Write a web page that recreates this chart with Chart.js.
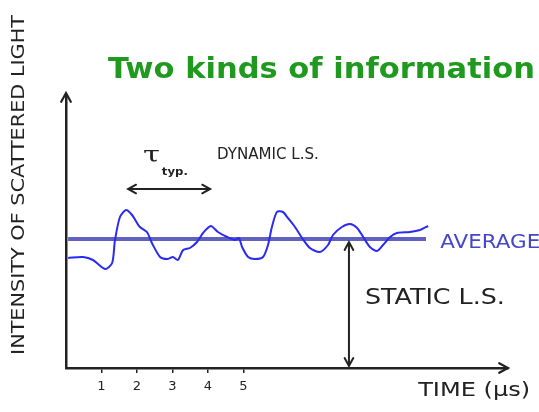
<!DOCTYPE html>
<html>
<head>
<meta charset="utf-8">
<script src="https://cdn.jsdelivr.net/npm/chart.js@4/dist/chart.umd.min.js"></script>
<style>
    html, body { margin: 0; padding: 0; background: #fff; }
    #wrap { width: 539px; height: 412px; }
</style>
</head>
<body>
<div id="wrap"><canvas id="grafico"></canvas></div>
<script>
// Datos: tiempo (µs) e intensidad (unidades arbitrarias)
const tiempo = [0.06, 0.48, 0.76, 1.10, 1.30, 1.38, 1.52, 1.69, 1.86, 2.08, 2.28, 2.42, 2.65, 2.87, 3.01,
    3.15, 3.30, 3.49, 3.69, 3.86, 4.08, 4.28, 4.54, 4.76, 4.87, 4.96, 5.13, 5.32, 5.55, 5.69, 5.80,
    5.94, 6.11, 6.25, 6.45, 6.65, 6.87, 7.15, 7.38, 7.52, 7.77, 8.00, 8.20, 8.37, 8.56, 8.76, 8.93,
    9.13, 9.32, 9.69, 9.97, 10.20];
const intensidad = [110, 111, 108, 99, 105, 128, 151, 158, 153, 141, 136, 125, 111, 109, 111,
    108, 118, 120, 126, 135, 142, 136, 131, 128, 130, 121, 111, 109, 111, 123, 141,
    156, 156, 150, 141, 130, 120, 116, 123, 133, 141, 144, 140, 131, 121, 117, 123,
    131, 135, 136, 138, 142];
const tiempoPromedio = [0.06, 10.14];
const promedio = 129;
const ticksTiempo = [1, 2, 3, 4, 5];
const tau = [1.75, 4.06];
const nivelTau = 179;
const tiempoEstatico = 7.97;
const estatico = [126, 2];

// Textos del dibujo (posicion en unidades de las escalas, ancho final en px)
const textos = [
    { texto: 'Two kinds of information', t: 1.18, v: 298, fuente: 'bold 29px "DejaVu Sans"', color: '#1f9a1f', ancho: 427 },
    { texto: 'τ', t: 2.17, v: 212, fuente: '22px "DejaVu Serif"', color: '#222', ancho: 17 },
    { texto: 'typ.', t: 2.70, v: 196, fuente: 'bold 11px "DejaVu Sans"', color: '#222', ancho: 26 },
    { texto: 'DYNAMIC L.S.', t: 4.25, v: 213, fuente: '15px "DejaVu Sans"', color: '#222', ancho: 102 },
    { texto: 'AVERAGE', t: 10.54, v: 125, fuente: '20px "DejaVu Sans"', color: '#4646c8', ancho: 100 },
    { texto: 'STATIC L.S.', t: 8.42, v: 70, fuente: '22px "DejaVu Sans"', color: '#222', ancho: 140 },
    { texto: 'TIME (µs)', t: 9.92, v: -23, fuente: '20px "DejaVu Sans"', color: '#222', ancho: 112 },
    { texto: 'INTENSITY OF SCATTERED LIGHT', t: -1.32, v: 183, fuente: '18px "DejaVu Sans"', color: '#222', ancho: 340, rotar: -Math.PI / 2, centro: true }
];

function punta(ctx, x, y, ang, largo) {
    ctx.beginPath();
    ctx.moveTo(x - largo * Math.cos(ang - 0.5), y - largo * Math.sin(ang - 0.5));
    ctx.lineTo(x, y);
    ctx.lineTo(x - largo * Math.cos(ang + 0.5), y - largo * Math.sin(ang + 0.5));
    ctx.stroke();
}

const dibujoExtra = {
    id: 'dibujoExtra',
    afterDatasetsDraw(chart) {
        const ctx = chart.ctx;
        const sx = chart.scales.x, sy = chart.scales.y;
        const area = chart.chartArea;
        ctx.save();
        ctx.strokeStyle = '#222';
        ctx.lineWidth = 2.2;
        ctx.lineCap = 'round';
        // flechas de los ejes
        punta(ctx, area.right, area.bottom, 0, 10);
        punta(ctx, area.left, area.top - 2, -Math.PI / 2, 10);
        // flecha de tau
        ctx.lineWidth = 2;
        punta(ctx, sx.getPixelForValue(tau[0]), sy.getPixelForValue(nivelTau), Math.PI, 9);
        punta(ctx, sx.getPixelForValue(tau[1]), sy.getPixelForValue(nivelTau), 0, 9);
        // flecha estatica
        punta(ctx, sx.getPixelForValue(tiempoEstatico), sy.getPixelForValue(estatico[0]), -Math.PI / 2, 9);
        punta(ctx, sx.getPixelForValue(tiempoEstatico), sy.getPixelForValue(estatico[1]), Math.PI / 2, 9);
        ctx.restore();
    },
    afterDraw(chart) {
        const ctx = chart.ctx;
        const sx = chart.scales.x, sy = chart.scales.y;
        textos.forEach(item => {
            ctx.save();
            ctx.translate(sx.getPixelForValue(item.t), sy.getPixelForValue(item.v));
            if (item.rotar) ctx.rotate(item.rotar);
            ctx.font = item.fuente;
            // estirar o comprimir el texto al ancho del dibujo
            const w = ctx.measureText(item.texto).width;
            ctx.scale(item.ancho / w, 1);
            ctx.fillStyle = item.color;
            ctx.textAlign = item.centro ? 'center' : 'left';
            ctx.textBaseline = 'middle';
            ctx.fillText(item.texto, 0, 0);
            ctx.restore();
        });
    }
};

const ctx = document.getElementById('grafico').getContext('2d');
new Chart(ctx, {
    type: 'line',
    data: {
        datasets: [{
            label: 'Intensidad',
            data: tiempo.map((t, i) => ({ x: t, y: intensidad[i] })),
            borderColor: '#2a2af0',
            borderWidth: 2,
            pointRadius: 0,
            tension: 0.25,
            order: 1
        }, {
            label: 'Promedio',
            data: tiempoPromedio.map(t => ({ x: t, y: promedio })),
            borderColor: 'rgba(80, 80, 185, 0.9)',
            borderWidth: 4,
            pointRadius: 0,
            order: 2
        }, {
            label: 'Tau',
            data: tau.map(t => ({ x: t, y: nivelTau })),
            borderColor: '#222',
            borderWidth: 2,
            pointRadius: 0,
            order: 3
        }, {
            label: 'Estatico',
            data: estatico.map(v => ({ x: tiempoEstatico, y: v })),
            borderColor: '#222',
            borderWidth: 2,
            pointRadius: 0,
            order: 3
        }]
    },
    options: {
        responsive: true,
        maintainAspectRatio: false,
        animation: false,
        clip: false,
        layout: {
            padding: { left: 66, top: 95, right: 31, bottom: 0 }
        },
        plugins: {
            legend: { display: false },
            tooltip: { enabled: false }
        },
        scales: {
            x: {
                type: 'linear',
                min: 0,
                max: 12.45,
                afterBuildTicks: scale => { scale.ticks = ticksTiempo.map(v => ({ value: v })); },
                afterFit: scale => { scale.height = 44; },
                grid: { display: true, drawOnChartArea: false, drawTicks: true, tickLength: 5, color: '#222', lineWidth: 1.5 },
                border: { display: true, color: '#222', width: 2.5 },
                ticks: { color: '#222', padding: 6, font: { family: 'DejaVu Sans', size: 13 } }
            },
            y: {
                min: 0,
                max: 273,
                afterFit: scale => { scale.width = 0; },
                grid: { display: false },
                border: { display: true, color: '#222', width: 2.5 },
                ticks: { display: false }
            }
        }
    },
    plugins: [dibujoExtra]
});
</script>
</body>
</html>
